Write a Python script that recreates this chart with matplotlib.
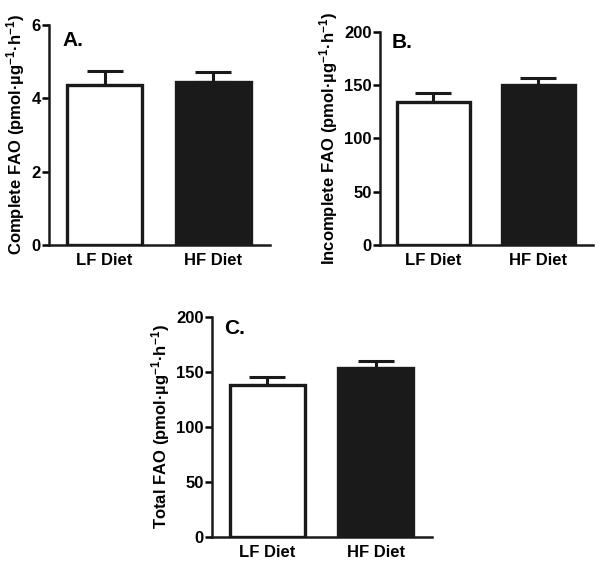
import numpy as np
import matplotlib.pyplot as plt

plt.rcParams['font.family'] = ['Liberation Sans', 'DejaVu Sans']
plt.rcParams['font.weight'] = 'bold'
plt.rcParams['mathtext.fontset'] = 'custom'
plt.rcParams['mathtext.rm'] = 'Liberation Sans:bold'
plt.rcParams['mathtext.bf'] = 'Liberation Sans:bold'
plt.rcParams['mathtext.default'] = 'bf'

# data
groups = ["LF Diet", "HF Diet"]
complete_fao = [4.37, 4.44]
complete_err = [0.38, 0.27]
incomplete_fao = [134, 150]
incomplete_err = [8.5, 7]
total_fao = [138.5, 153.8]
total_err = [7.5, 6.5]

fill = ["white", "#1a1a1a"]

panels = [
    ([0.0814, 0.568, 0.367, 0.388], complete_fao, complete_err, 6, [0, 2, 4, 6],
     "Complete FAO", "A.", (0.06, 0.93)),
    ([0.631, 0.568, 0.354, 0.376], incomplete_fao, incomplete_err, 200, [0, 50, 100, 150, 200],
     "Incomplete FAO", "B.", (0.055, 0.95)),
    ([0.352, 0.0534, 0.366, 0.387], total_fao, total_err, 200, [0, 50, 100, 150, 200],
     "Total FAO", "C.", (0.056, 0.95)),
]

fig = plt.figure(figsize=(6.02, 5.67), dpi=100)

for rect, vals, errs, ymax, ticks, name, tag, tagpos in panels:
    ax = fig.add_axes(rect)
    x = np.arange(len(groups))
    ax.errorbar(x, vals, yerr=[np.zeros(len(errs)), errs], fmt='none',
                ecolor='#1a1a1a', elinewidth=2.2, capsize=13, capthick=2.2, zorder=1)
    ax.bar(x, vals, width=0.69, color=fill, edgecolor='#1a1a1a', linewidth=2.4, zorder=2)
    ax.set_xlim(-0.51, 1.52)
    ax.set_ylim(0, ymax)
    ax.set_yticks(ticks)
    ax.set_xticks(x)
    ax.set_xticklabels(groups, fontsize=12, fontweight='bold')
    ax.tick_params(axis='x', length=0, pad=6)
    ax.tick_params(axis='y', length=5, width=1.8, labelsize=12, pad=1)
    for lab in ax.get_yticklabels():
        lab.set_fontweight('bold')
    for s in ['top', 'right']:
        ax.spines[s].set_visible(False)
    for s in ['left', 'bottom']:
        ax.spines[s].set_linewidth(1.8)
        ax.spines[s].set_color('#1a1a1a')
    ax.set_ylabel(name + r" (pmol·µg$^{-1}$·h$^{-1}$)", fontsize=12, fontweight='bold', labelpad=3)
    ax.text(tagpos[0], tagpos[1], tag, transform=ax.transAxes, fontsize=15,
            fontweight='bold', ha='left', va='center')

fig.savefig("out.png", dpi=100)
